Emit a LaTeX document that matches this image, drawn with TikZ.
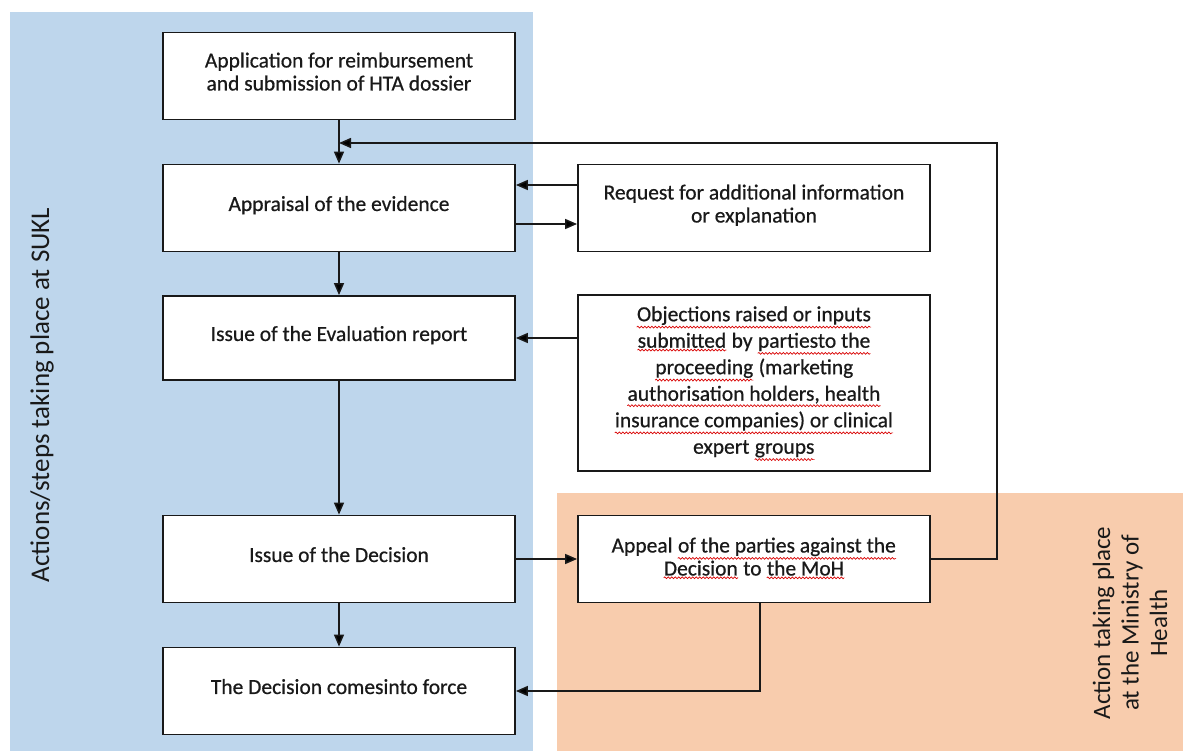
\documentclass[tikz,border=0pt]{standalone}
\usepackage{fontspec}
\setmainfont{Carlito}
\newfontfamily\boxfont{Carlito}[FakeBold=0.6]
\usetikzlibrary{arrows.meta,decorations.pathmorphing}
\definecolor{sukl}{RGB}{190,214,236}
\definecolor{moh}{RGB}{248,204,173}
\definecolor{ink}{RGB}{25,25,25}
\newcommand{\sq}[1]{\tikz[baseline=(w.base)]{\node[draw=none,fill=none,inner sep=0pt,minimum width=0pt,minimum height=0pt,text depth=,rotate=0] (w) {#1};
  \draw[draw=red!85!black,line width=0.7pt,decorate,decoration={snake,amplitude=0.9pt,segment length=3.5pt}] ([yshift=-2pt]w.south west) -- ([yshift=-2pt]w.south east);}}
\begin{document}
\begin{tikzpicture}[x=1pt,y=-1pt,
  box/.style={draw=ink,line width=1.8pt,fill=white,minimum width=352pt,minimum height=87pt,
    align=center,font=\boxfont\fontsize{21.5}{23}\selectfont,inner sep=0pt,text=ink,text depth=9pt},
  conn/.style={draw=ink,line width=1.5pt,-{Triangle[length=12pt,width=10pt]}},
  lane/.style={text=ink,align=center}]
\useasboundingbox (0,0) rectangle (1183,751);
\fill[sukl] (10,12) rectangle (533,751);
\fill[moh] (557,493) rectangle (1183,751);

\node[box] (app) at (339,76) {Application for reimbursement\\and submission of HTA dossier};
\node[box] (apr) at (339,208) {Appraisal of the evidence};
\node[box,minimum height=84pt] (eval) at (339,338) {Issue of the Evaluation report};
\node[box] (dec) at (339,559) {Issue of the Decision};
\node[box] (force) at (339,691) {The Decision comesinto force};
\node[box] (req) at (754,208) {Request for additional information\\or explanation};
\node[box,minimum height=176pt,text depth=6pt,font=\boxfont\fontsize{21.5}{26.5}\selectfont] (obj) at (754,383)
  {\sq{Objections raised or inputs}\\\sq{submitted} by \sq{partiesto the}\\\sq{proceeding} (marketing\\\sq{authorisation holders, health}\\\sq{insurance companies) or clinical}\\expert \sq{groups}};
\node[box,text depth=5pt] (appeal) at (754,559) {Appeal \sq{of the parties against the}\\\sq{Decision} to \sq{the MoH}};

\node[lane,rotate=90,font=\fontsize{27}{30}\selectfont] (lab1) at (42,395) {Actions/steps taking place at SUKL};
\node[lane,rotate=90,font=\fontsize{25}{28.5}\selectfont] (lab2) at (1130,623) {Action taking place\\at the Ministry of\\Health};

\coordinate (loop) at (997,143);
\draw[conn] (app) -- (apr);
\draw[conn] (appeal.east) -| (loop) -- (app.south |- loop);
\draw[conn] ([yshift=23pt]req.west) -- ([yshift=23pt]apr.east);
\draw[conn] ([yshift=-16pt]apr.east) -- ([yshift=-16pt]req.west);
\draw[conn] (apr) -- (eval);
\draw[conn] (obj.west |- eval.east) -- (eval.east);
\draw[conn] (eval) -- (dec);
\draw[conn] (dec) -- (appeal);
\draw[conn] (dec) -- (force);
\draw[conn] ([xshift=6pt]appeal.south) |- (force.east);
\end{tikzpicture}
\end{document}
